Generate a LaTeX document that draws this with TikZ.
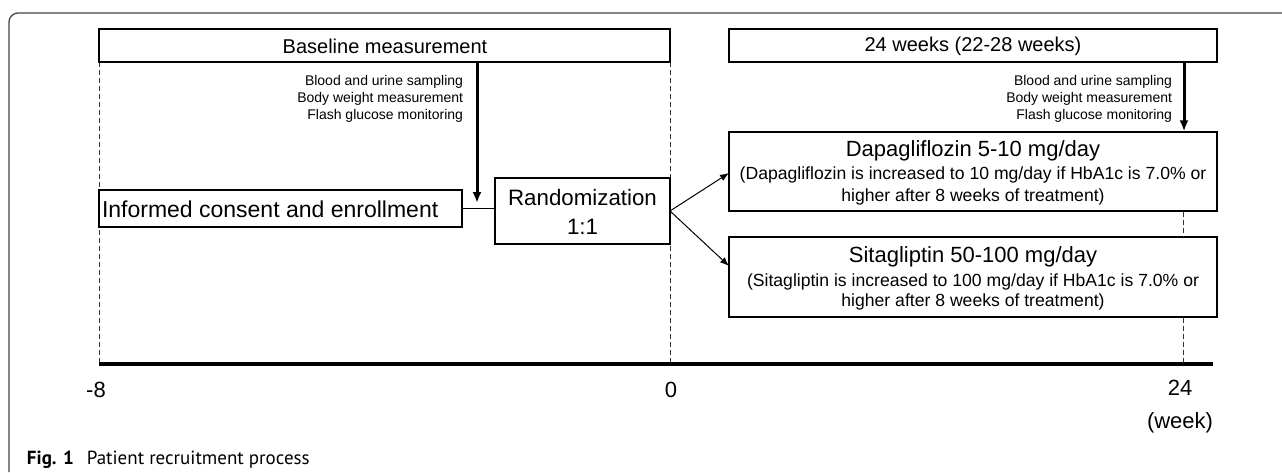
\documentclass[tikz,border=0pt]{standalone}
\usepackage{fontspec}
\setmainfont{Liberation Sans}
\newfontfamily\capfont{PT Sans}
\usetikzlibrary{arrows.meta}
\definecolor{framegray}{HTML}{444444}
\definecolor{dashgray}{HTML}{333333}
\tikzset{
  box/.style={draw=black, line width=1.3pt, fill=white, inner sep=0pt, minimum width=#1},
  txt/.style={inner sep=0pt, outer sep=0pt},
  guide/.style={draw=dashgray, line width=0.8pt, dash pattern=on 5pt off 3pt},
  bigarrow/.style={line width=3pt, -{Latex[length=11pt,width=9pt]}},
  thinarrow/.style={line width=1pt, -{Latex[length=9pt,width=7pt]}},
  link/.style={line width=1pt},
}
\begin{document}
\begin{tikzpicture}[x=1pt,y=-1pt]
\useasboundingbox (0,0) rectangle (1282,472);
% outer frame
\draw[framegray, line width=1.3pt, rounded corners=9pt] (1282,13) -- (9,13) -- (9,472);
% dashed guides
\coordinate (gA) at (99,62);  \coordinate (gAe) at (99,364);
\coordinate (gB) at (670,62); \coordinate (gBe) at (670,364);
\draw[guide] (gA) -- (gAe);
\draw[guide] (gB) -- (gBe);
% axis
\coordinate (axL) at (99,364); \coordinate (axR) at (1213,364);
\draw[line width=3.6pt] (axL) -- (axR);
% top boxes
\node[box=571pt, minimum height=33pt] (base) at (384.5,45.5) {};
\node[txt, font=\fontsize{20}{24}\selectfont] (baset) at (385,46) {Baseline measurement};
\node[box=488pt, minimum height=33pt] (wk) at (973,45.5) {};
\node[txt, font=\fontsize{20}{24}\selectfont] (wkt) at (973,46) {24 weeks (22-28 weeks)};
% side notes
\node[txt, anchor=east, font=\fontsize{14}{17}\selectfont] (n1) at (463,82) {Blood and urine sampling};
\node[txt, anchor=east, font=\fontsize{14}{17}\selectfont] (n2) at (463,99) {Body weight measurement};
\node[txt, anchor=east, font=\fontsize{14}{17}\selectfont] (n3) at (463,116) {Flash glucose monitoring};
\node[txt, anchor=east, font=\fontsize{14}{17}\selectfont] (m1) at (1172,82) {Blood and urine sampling};
\node[txt, anchor=east, font=\fontsize{14}{17}\selectfont] (m2) at (1172,99) {Body weight measurement};
\node[txt, anchor=east, font=\fontsize{14}{17}\selectfont] (m3) at (1172,116) {Flash glucose monitoring};
% informed consent
\node[box=363pt, minimum height=37pt] (inf) at (280.5,208.5) {};
\node[txt, anchor=west, font=\fontsize{23}{27}\selectfont] (inft) at (102,209) {Informed consent and enrollment};
% randomization
\node[box=175pt, minimum height=66pt] (rand) at (582.5,211) {};
\node[txt, font=\fontsize{22.3}{27}\selectfont] (rand1) at (582.5,198) {Randomization};
\node[txt, font=\fontsize{22.3}{27}\selectfont] (rand2) at (582.5,227) {1:1};
% dapagliflozin
\node[box=488pt, minimum height=79pt] (dapa) at (973,171.5) {};
\node[txt, font=\fontsize{22}{26}\selectfont] (dapa1) at (973,151) {Dapagliflozin 5-10 mg/day};
\node[txt, font=\fontsize{17.6}{21}\selectfont] (dapa2) at (973,175) {(Dapagliflozin is increased to 10 mg/day if HbA1c is 7.0\% or};
\node[txt, font=\fontsize{17.6}{21}\selectfont] (dapa3) at (973,197) {higher after 8 weeks of treatment)};
% sitagliptin
\node[box=488pt, minimum height=80pt] (sita) at (973,277) {};
\node[txt, font=\fontsize{22}{26}\selectfont] (sita1) at (973,257) {Sitagliptin 50-100 mg/day};
\node[txt, font=\fontsize{17.6}{21}\selectfont] (sita2) at (973,282) {(Sitagliptin is increased to 100 mg/day if HbA1c is 7.0\% or};
\node[txt, font=\fontsize{17.6}{21}\selectfont] (sita3) at (973,302) {higher after 8 weeks of treatment)};
% dashed guide at week 24
\coordinate (gC) at (1183,364);
\draw[guide] (dapa.south -| gC) -- (sita.north -| gC);
\draw[guide] (sita.south -| gC) -- (gC);
% connectors
\coordinate (baseArrow) at (477,62);
\coordinate (baseEnd) at (477,203);
\draw[bigarrow] (baseArrow) -- (baseEnd);
\coordinate (wkArrow) at (1184,62);
\draw[bigarrow] (wkArrow) -- (dapa.north -| wkArrow);
\draw[link] (inf.east) -- (rand.west |- inf.east);
\coordinate (split) at (670,211);
\coordinate (dapaIn) at (729,173);
\coordinate (sitaIn) at (729,266);
\draw[thinarrow] (split) -- (dapaIn);
\draw[thinarrow] (split) -- (sitaIn);
% axis labels
\node[txt, font=\fontsize{22}{26}\selectfont] (lm8) at (96,390) {-8};
\node[txt, font=\fontsize{22}{26}\selectfont] (l0) at (671,390) {0};
\node[txt, font=\fontsize{22}{26}\selectfont] (l24) at (1180,388) {24};
\node[txt, font=\fontsize{22}{26}\selectfont] (lwk) at (1180,423) {(week)};
% caption
\node[txt, anchor=base west, font=\capfont\fontsize{19}{22}\selectfont] (cap) at (27,464) {\textbf{Fig. 1}\hspace{13pt}Patient recruitment process};
\end{tikzpicture}
\end{document}
